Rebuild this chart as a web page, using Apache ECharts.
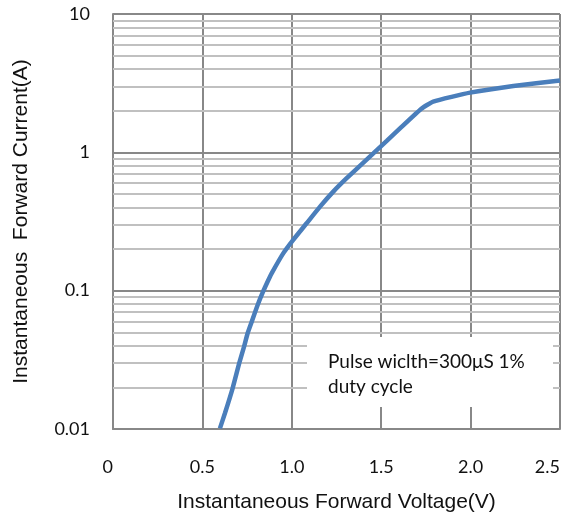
<!DOCTYPE html>
<html>
<head>
<meta charset="utf-8">
<script src="https://cdn.jsdelivr.net/npm/echarts@6/dist/echarts.min.js"></script>
<style>html,body{margin:0;padding:0;background:#fff;}#c{width:565px;height:519px;}</style>
</head>
<body>
<div id="c"></div>
<script>
// Data
const voltage = [0.598, 0.626, 0.669, 0.706, 0.733, 0.753, 0.776, 0.809, 0.841, 0.869, 0.888, 0.952, 1.008, 1.083, 1.158, 1.232, 1.307, 1.381, 1.456, 1.531, 1.605, 1.723, 1.791, 1.997, 2.239, 2.5];
const current = [0.0101, 0.0130, 0.0197, 0.0299, 0.0394, 0.0492, 0.0597, 0.0788, 0.0995, 0.1195, 0.134, 0.186, 0.233, 0.307, 0.405, 0.520, 0.650, 0.798, 0.982, 1.21, 1.49, 2.06, 2.33, 2.70, 3.02, 3.31];
const xTicks = [0, 0.5, 1.0, 1.5, 2.0, 2.5];
const yTickLabels = ['0.01', '0.1', '1', '10'];
const minorGridValues = [0.02,0.03,0.04,0.05,0.06,0.07,0.08,0.09,0.2,0.3,0.4,0.5,0.6,0.7,0.8,0.9,2,3,4,5,6,7,8,9];
const xTitle = 'Instantaneous Forward Voltage(V)';
const yTitle = 'Instantaneous  Forward Current(A)';
const noteLines = ['Pulse wiclth=300\u03bcS 1%', 'duty cycle'];

const chart = echarts.init(document.getElementById('c'));
const pts = voltage.map((v, i) => [v, current[i]]);
chart.setOption({
  animation: false,
  grid: { left: 113, top: 14, right: 5, bottom: 90, containLabel: false, outerBoundsMode: 'none' },
  xAxis: {
    type: 'value', min: 0, max: 2.5, interval: 0.5,
    name: xTitle, nameLocation: 'middle', nameGap: 63,
    nameTextStyle: { fontFamily: 'Liberation Sans', fontSize: 21, color: '#111' },
    axisLine: { show: true, onZero: false, lineStyle: { color: '#888', width: 2 } },
    axisTick: { show: false },
    axisLabel: {
      margin: 29, fontFamily: 'Lato', fontSize: 18, color: '#111',
      alignMinLabel: 'right', alignMaxLabel: 'right',
      formatter: v => v === 0 ? '0' : v.toFixed(1)
    },
    splitLine: { show: true, lineStyle: { color: '#888', width: 2 } }
  },
  yAxis: {
    type: 'log', logBase: 10, min: 0.01, max: 10,
    name: yTitle, nameLocation: 'middle', nameGap: 81,
    nameTextStyle: { fontFamily: 'Liberation Sans', fontSize: 21, color: '#111' },
    axisLine: { show: true, lineStyle: { color: '#888', width: 2 } },
    axisTick: { show: false },
    axisLabel: {
      margin: 23, fontFamily: 'Lato', fontSize: 18, color: '#111',
      formatter: v => { const s = yTickLabels.find(t => Math.abs(parseFloat(t) - v) / v < 1e-6); return s || ''; }
    },
    splitLine: { show: true, lineStyle: { color: '#888', width: 2 } }
  },
  series: [
    {
      type: 'line', data: [], silent: true, z: 1,
      markLine: {
        silent: true, symbol: 'none', label: { show: false },
        lineStyle: { color: '#c0c0c0', width: 2, type: 'solid' },
        data: minorGridValues.map(v => ({ yAxis: v }))
      }
    },
    {
      type: 'line', data: pts, showSymbol: false, smooth: 0.15, z: 5,
      lineStyle: { color: '#4a7ebb', width: 4.5 }
    }
  ],
  graphic: [
    { type: 'rect', left: 307, top: 337, shape: { width: 246, height: 70 }, style: { fill: '#fff' }, z: 10 },
    { type: 'text', left: 328, top: 349, style: { text: noteLines.join('\n'), font: '19px Lato', fill: '#111', lineHeight: 25 }, z: 11 }
  ]
});
</script>
</body>
</html>
